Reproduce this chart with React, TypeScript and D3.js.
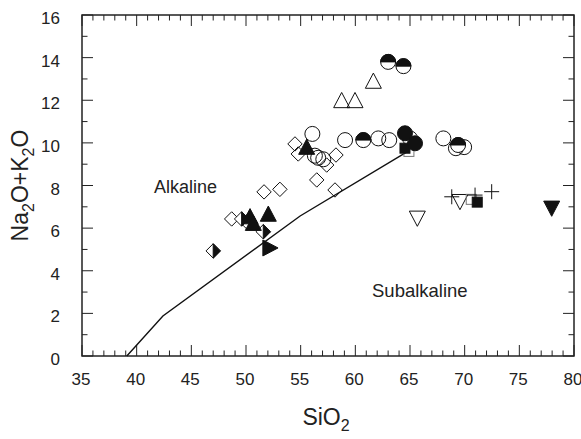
import React from "react";
import * as d3 from "d3";

// ---- data (SiO2, Na2O+K2O) ----
const sio2Ticks = [35, 40, 45, 50, 55, 60, 65, 70, 75, 80];
const alkTicks = [0, 2, 4, 6, 8, 10, 12, 14, 16];

const dividerLine: [number, number][] = [
  [39.1, 0], [42.4, 1.88], [54.95, 6.57], [64.8, 9.6],
];

const openCircles: [number, number][] = [
  [56.07, 10.42], [59.06, 10.13], [62.1, 10.21], [63.1, 10.13], [65.0, 10.21],
  [68.05, 10.21], [69.2, 9.75], [69.95, 9.8], [56.3, 9.4], [56.6, 9.3], [57.07, 9.23],
];
const halfCircles: [number, number][] = [
  [60.73, 10.13], [69.4, 9.9], [63.0, 13.8], [64.4, 13.6],
];
const filledCircles: [number, number][] = [
  [64.54, 10.45], [65.46, 9.98],
];
const openTriangles: [number, number][] = [
  [61.65, 12.9], [58.75, 11.99], [59.97, 11.99],
];
const filledTriangles: [number, number][] = [
  [55.55, 9.8], [52.04, 6.66], [50.37, 6.54], [50.67, 6.23],
];
const openDiamonds: [number, number][] = [
  [54.48, 9.95], [54.78, 9.48], [57.38, 8.96], [58.23, 9.43], [56.47, 8.26],
  [58.14, 7.79], [51.65, 7.7], [53.1, 7.82], [48.69, 6.43], [50.06, 6.3],
];
const halfDiamonds: [number, number][] = [
  [49.6, 6.43], [47.0, 4.93], [51.58, 5.83],
];
const rightTriangles: [number, number][] = [
  [52.2, 5.07],
];
const openSquares: [number, number][] = [
  [64.9, 9.6], [70.6, 7.35],
];
const filledSquares: [number, number][] = [
  [64.54, 9.75], [71.15, 7.22],
];
const openDownTriangles: [number, number][] = [
  [69.57, 7.24], [65.67, 6.46],
];
const filledDownTriangles: [number, number][] = [
  [77.96, 6.93],
];
const plusMarks: [number, number][] = [
  [68.82, 7.47], [70.95, 7.55], [72.47, 7.71],
];

const W = 581;
const H = 439;
const FONT = "'Liberation Sans', Arial, Helvetica, sans-serif";

export default function App() {
  const x = d3.scaleLinear().domain([35, 80]).range([82, 574]);
  const y = d3.scaleLinear().domain([0, 16]).range([356, 15]);

  const line = d3.line<[number, number]>().x((d) => x(d[0])).y((d) => y(d[1]));

  const minorX = d3.range(35, 81, 1);
  const minorY = d3.range(0, 17, 1);
  const MAJ = 11;
  const MIN = 5.5;

  const R = 7.5; // circle radius
  const T = 8; // triangle half width
  const D = 7.2; // diamond half diagonal
  const S = 5; // square half side
  const P = 7.5; // plus half arm

  const sw = 1;
  const tr = (d: [number, number]) => `translate(${x(d[0])},${y(d[1])})`;

  const triUp = `M0,${-T}L${T},${T * 0.9}L${-T},${T * 0.9}Z`;
  const triDown = `M0,${T}L${T},${-T * 0.9}L${-T},${-T * 0.9}Z`;
  const triRight = `M${T},0L${-T * 0.9},${-T}L${-T * 0.9},${T}Z`;
  const diamond = `M0,${-D}L${D},0L0,${D}L${-D},0Z`;
  const diamondRightHalf = `M0,${-D}L${D},0L0,${D}Z`;
  const halfTop = `M${-R},0A${R},${R} 0 0 1 ${R},0Z`;

  return (
    <svg
      width={W}
      height={H}
      style={{ position: "absolute", left: 0, top: 0, background: "#fff" }}
      fontFamily={FONT}
    >
      <rect x={0} y={0} width={W} height={H} fill="#fff" />
      {/* ticks */}
      <g stroke="#222" strokeWidth={1}>
        {minorX.map((v) => {
          const len = v % 5 === 0 ? MAJ : MIN;
          return (
            <g key={"tx" + v}>
              <line x1={x(v)} x2={x(v)} y1={y(0)} y2={y(0) - len} />
              <line x1={x(v)} x2={x(v)} y1={y(16)} y2={y(16) + len} />
            </g>
          );
        })}
        {minorY.map((v) => {
          const len = v % 2 === 0 ? MAJ : MIN;
          return (
            <g key={"ty" + v}>
              <line x1={x(35)} x2={x(35) + len} y1={y(v)} y2={y(v)} />
              <line x1={x(80)} x2={x(80) - len} y1={y(v)} y2={y(v)} />
            </g>
          );
        })}
      </g>
      <rect
        x={x(35)}
        y={y(16)}
        width={x(80) - x(35)}
        height={y(0) - y(16)}
        fill="none"
        stroke="#222"
        strokeWidth={1.5}
      />
      {/* tick labels */}
      <g fontSize={17} fill="#222">
        {sio2Ticks.map((v) => (
          <text key={"lx" + v} x={x(v) - 1} y={y(0) + 29} textAnchor="middle">
            {v}
          </text>
        ))}
        {alkTicks.map((v) => (
          <text key={"ly" + v} x={60} y={y(v) + 9} textAnchor="end">
            {v}
          </text>
        ))}
      </g>
      {/* axis titles */}
      <text x={326} y={425} textAnchor="middle" fontSize={23} fill="#222">
        SiO<tspan dy={6} fontSize={16}>2</tspan>
      </text>
      <text
        transform={`translate(28,${(y(0) + y(16)) / 2}) rotate(-90)`}
        textAnchor="middle"
        fontSize={23}
        fill="#222"
      >
        Na<tspan dy={6} fontSize={16}>2</tspan>
        <tspan dy={-6}>O+K</tspan>
        <tspan dy={6} fontSize={16}>2</tspan>
        <tspan dy={-6}>O</tspan>
      </text>
      {/* region labels */}
      <text x={217} y={193} textAnchor="end" fontSize={18} fill="#222">
        Alkaline
      </text>
      <text x={372} y={297} textAnchor="start" fontSize={18.5} fill="#222">
        Subalkaline
      </text>
      {/* divider */}
      <path d={line(dividerLine) || ""} fill="none" stroke="#111" strokeWidth={1.4} />
      {/* symbols */}
      <g stroke="#111" strokeWidth={sw}>
        {openDiamonds.map((d, i) => (
          <path key={"od" + i} transform={tr(d)} d={diamond} fill="none" />
        ))}
        {halfDiamonds.map((d, i) => (
          <g key={"hd" + i} transform={tr(d)}>
            <path d={diamond} fill="#fff" />
            <path d={diamondRightHalf} fill="#111" />
          </g>
        ))}
        {openCircles.map((d, i) => (
          <circle key={"oc" + i} transform={tr(d)} r={R} fill="none" />
        ))}
        {halfCircles.map((d, i) => (
          <g key={"hc" + i} transform={tr(d)}>
            <circle r={R} fill="#fff" />
            <path d={halfTop} fill="#111" />
          </g>
        ))}
        {openTriangles.map((d, i) => (
          <path key={"ot" + i} transform={tr(d)} d={triUp} fill="none" />
        ))}
        {openDownTriangles.map((d, i) => (
          <path key={"odt" + i} transform={tr(d)} d={triDown} fill="none" />
        ))}
        {openSquares.map((d, i) => (
          <rect key={"os" + i} transform={tr(d)} x={-S} y={-S} width={2 * S} height={2 * S} fill="none" stroke="#777" />
        ))}
        {filledSquares.map((d, i) => (
          <rect key={"fs" + i} transform={tr(d)} x={-S} y={-S} width={2 * S} height={2 * S} fill="#111" />
        ))}
        {filledCircles.map((d, i) => (
          <circle key={"fc" + i} transform={tr(d)} r={R} fill="#111" />
        ))}
        {filledTriangles.map((d, i) => (
          <path key={"ft" + i} transform={tr(d)} d={triUp} fill="#111" />
        ))}
        {rightTriangles.map((d, i) => (
          <path key={"rt" + i} transform={tr(d)} d={triRight} fill="#111" />
        ))}
        {filledDownTriangles.map((d, i) => (
          <path key={"fdt" + i} transform={tr(d)} d={triDown} fill="#111" />
        ))}
        {plusMarks.map((d, i) => (
          <path key={"pm" + i} transform={tr(d)} d={`M${-P},0H${P}M0,${-P}V${P}`} fill="none" />
        ))}
      </g>
    </svg>
  );
}
